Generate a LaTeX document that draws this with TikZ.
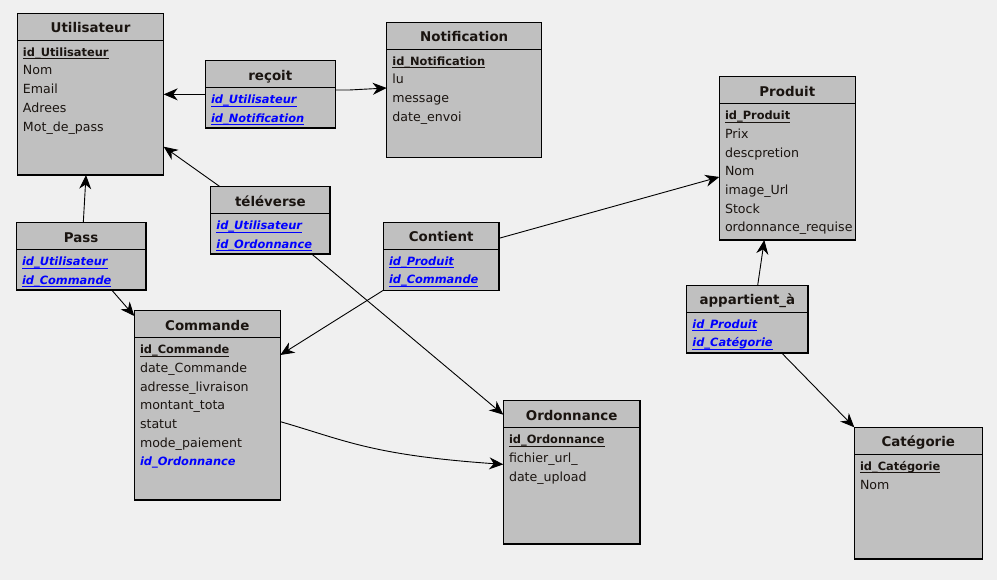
\documentclass[tikz,border=0pt]{standalone}
\usepackage{fontspec}
\setmainfont{DejaVu Sans}
\usetikzlibrary{arrows.meta,calc}

\definecolor{bg}{HTML}{F0F0F0}
\definecolor{boxfill}{HTML}{C0C0C0}
\definecolor{fkblue}{HTML}{0000FF}
\definecolor{txt}{HTML}{1A1410}

% underlined key text (rule drawn just under the baseline)
\newcommand\erUl[1]{\setbox0\hbox{#1}\rlap{\rule[-2.8pt]{\wd0}{0.9pt}}\box0}

\tikzset{
  tbl/.style={draw=black, line width=1.4pt, fill=boxfill, anchor=north west,
              inner sep=0pt, outer sep=0pt},
  hdr/.style={draw=black, line width=1.1pt},
  ttl/.style={anchor=base, inner sep=0pt, text=txt, font=\fontsize{13.4}{15}\selectfont\bfseries},
  attr/.style={anchor=base west, inner sep=0pt, text=txt, font=\fontsize{12.6}{15}\selectfont},
  pk/.style={attr, font=\fontsize{11.4}{14}\selectfont\bfseries},
  fk/.style={attr, text=fkblue, font=\fontsize{11.4}{14}\selectfont\bfseries\itshape},
  link/.style={draw=black, line width=0.9pt,
               -{Stealth[length=14pt,width=12pt,inset=4.5pt]}}
}

% table: name, left, top, right, bottom, title
\newcommand\erBox[6]{%
  \node[tbl, minimum width={#4pt-#2pt}, minimum height={#5pt-#3pt}] (#1) at (#2,#3) {};
  \draw[hdr] ([yshift=-27pt]#1.north west) -- ([yshift=-27pt]#1.north east);
  \node[ttl] (#1-t) at ([yshift=-19.5pt]#1.north) {#6};}
% row: table, index, style, text
\newcommand\erRow[4]{%
  \node[#3] (#1-#2) at ([xshift=5.5pt,yshift={-43pt-18.7pt*#2}]#1.north west) {#4};}

\begin{document}
\begin{tikzpicture}[x=1pt,y=-1pt]
\fill[bg] (0,0) rectangle (997,580);
\useasboundingbox (0,0) rectangle (997,580);

% entities
\erBox{u}{17.3}{13.3}{163.7}{175}{Utilisateur}
\erRow{u}{0}{pk}{\erUl{id\_Utilisateur}}
\erRow{u}{1}{attr}{Nom}
\erRow{u}{2}{attr}{Email}
\erRow{u}{3}{attr}{Adrees}
\erRow{u}{4}{attr}{Mot\_de\_pass}

\erBox{notif}{386.7}{22.3}{541.7}{157.3}{Notification}
\erRow{notif}{0}{pk}{\erUl{id\_Notification}}
\erRow{notif}{1}{attr}{lu}
\erRow{notif}{2}{attr}{message}
\erRow{notif}{3}{attr}{date\_envoi}

\erBox{prod}{719.3}{76.7}{855.3}{240}{Produit}
\erRow{prod}{0}{pk}{\erUl{id\_Produit}}
\erRow{prod}{1}{attr}{Prix}
\erRow{prod}{2}{attr}{descpretion}
\erRow{prod}{3}{attr}{Nom}
\erRow{prod}{4}{attr}{image\_Url}
\erRow{prod}{5}{attr}{Stock}
\erRow{prod}{6}{attr}{ordonnance\_requise}

\erBox{cmd}{134.3}{310.7}{280.3}{500}{Commande}
\erRow{cmd}{0}{pk}{\erUl{id\_Commande}}
\erRow{cmd}{1}{attr}{date\_Commande}
\erRow{cmd}{2}{attr}{adresse\_livraison}
\erRow{cmd}{3}{attr}{montant\_tota}
\erRow{cmd}{4}{attr}{statut}
\erRow{cmd}{5}{attr}{mode\_paiement}
\erRow{cmd}{6}{fk}{id\_Ordonnance}

\erBox{ordo}{503.3}{400.7}{640}{544}{Ordonnance}
\erRow{ordo}{0}{pk}{\erUl{id\_Ordonnance}}
\erRow{ordo}{1}{attr}{fichier\_url\_}
\erRow{ordo}{2}{attr}{date\_upload}

\erBox{cat}{854.3}{427.3}{982.3}{559}{Catégorie}
\erRow{cat}{0}{pk}{\erUl{id\_Catégorie}}
\erRow{cat}{1}{attr}{Nom}

% associations
\erBox{recoit}{205.3}{60.7}{335.3}{128}{reçoit}
\erRow{recoit}{0}{fk}{\erUl{id\_Utilisateur}}
\erRow{recoit}{1}{fk}{\erUl{id\_Notification}}

\erBox{telev}{210.7}{186.7}{330}{254}{téléverse}
\erRow{telev}{0}{fk}{\erUl{id\_Utilisateur}}
\erRow{telev}{1}{fk}{\erUl{id\_Ordonnance}}

\erBox{pass}{16.3}{222.7}{146}{290}{Pass}
\erRow{pass}{0}{fk}{\erUl{id\_Utilisateur}}
\erRow{pass}{1}{fk}{\erUl{id\_Commande}}

\erBox{cont}{383.3}{222.3}{499}{290.3}{Contient}
\erRow{cont}{0}{fk}{\erUl{id\_Produit}}
\erRow{cont}{1}{fk}{\erUl{id\_Commande}}

\erBox{app}{686.7}{285.3}{808}{353}{appartient\_à}
\erRow{app}{0}{fk}{\erUl{id\_Produit}}
\erRow{app}{1}{fk}{\erUl{id\_Catégorie}}

% connectors
\draw[link] (recoit.west) -- (recoit.west -| u.east);
\draw[link] ([yshift=4.3pt]recoit.east) -- ++(13,0) -- ([yshift=1.8pt]notif.west);
\draw[link] ([xshift=9.3pt]telev.north west) -- ([yshift=28.3pt]u.south east);
\draw[link] ([xshift=-18.3pt]telev.south east) -- ([yshift=-14pt]ordo.north west);
\draw[link] ([xshift=67pt]pass.north west) -- ([xshift=68.7pt]u.south west);
\draw[link] ([xshift=-34.3pt]pass.south east) -- ([yshift=-5.3pt]cmd.north west);
\draw[link] ([yshift=18pt]cont.east) -- ([yshift=-18.6pt]prod.west);
\draw[link] (cont.south west) -- ([yshift=-44.3pt]cmd.north east);
\draw[link] ([yshift=-16.3pt]cmd.east)
  to[out=-16,in=176,out looseness=0.75,in looseness=1.5] ([yshift=8pt]ordo.west);
\draw[link] ([xshift=71pt]app.north west) -- ([xshift=45pt]prod.south west);
\draw[link] ([xshift=-26.3pt]app.south east) -- (cat.north west);
\end{tikzpicture}
\end{document}
